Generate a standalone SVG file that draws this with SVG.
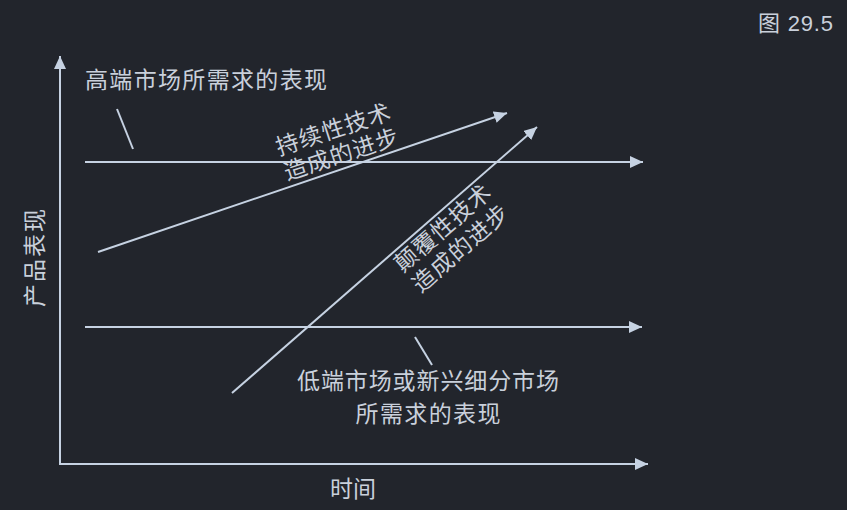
<svg xmlns="http://www.w3.org/2000/svg" width="847" height="510" viewBox="0 0 847 510">
<defs>
<style>
.ln{stroke:#c6d2e2;stroke-width:2;fill:none}
.t{fill:#c9d0db;font-family:"Noto Sans CJK SC","Noto Sans",sans-serif;font-size:23px}
.f{fill:#c9d0db;font-family:"Liberation Sans","Noto Sans CJK SC",sans-serif;font-size:22px}
</style>
<marker id="ah" markerUnits="userSpaceOnUse" markerWidth="14" markerHeight="12" refX="13" refY="6" orient="auto">
<path d="M0,0 L13,6 L0,12 Z" fill="#c6d2e2"/>
</marker>
</defs>
<rect width="847" height="510" fill="#22252c"/>
<g id="connectors">
<line class="ln" x1="60" y1="463" x2="60" y2="56" marker-end="url(#ah)"/>
<line class="ln" x1="59" y1="464" x2="648" y2="464" marker-end="url(#ah)"/>
<line class="ln" x1="85" y1="162" x2="643" y2="162" marker-end="url(#ah)"/>
<line class="ln" x1="85" y1="327" x2="642" y2="327" marker-end="url(#ah)"/>
<line class="ln" x1="98" y1="252" x2="507" y2="113" marker-end="url(#ah)"/>
<line class="ln" x1="232" y1="393" x2="537" y2="127" marker-end="url(#ah)"/>
<line class="ln" x1="117" y1="109" x2="133" y2="149"/>
<line class="ln" x1="415" y1="337" x2="432" y2="365"/>
</g>
<g id="fig-label"><text class="f" x="758" y="31" textLength="75">图 29.5</text></g>
<g id="high-label"><text class="t" x="85" y="88" textLength="242">高端市场所需求的表现</text></g>
<g id="sustaining-label" transform="translate(337,140) rotate(-18)">
<text class="t" text-anchor="middle" dominant-baseline="central" letter-spacing="1"><tspan x="0" y="-13">持续性技术</tspan><tspan x="0" y="13">造成的进步</tspan></text>
</g>
<g id="disruptive-label" transform="translate(451,237) rotate(-41)">
<text class="t" text-anchor="middle" dominant-baseline="central" letter-spacing="1"><tspan x="0" y="-14">颠覆性技术</tspan><tspan x="0" y="13">造成的进步</tspan></text>
</g>
<g id="low-label">
<text class="t" x="428" y="389" text-anchor="middle" textLength="262">低端市场或新兴细分市场</text>
<text class="t" x="428" y="422" text-anchor="middle" textLength="145">所需求的表现</text>
</g>
<g id="x-label"><text class="t" x="353" y="497" text-anchor="middle">时间</text></g>
<g id="y-label"><text class="t" transform="translate(43,257) rotate(-90)" text-anchor="middle" letter-spacing="2">产品表现</text></g>
</svg>
